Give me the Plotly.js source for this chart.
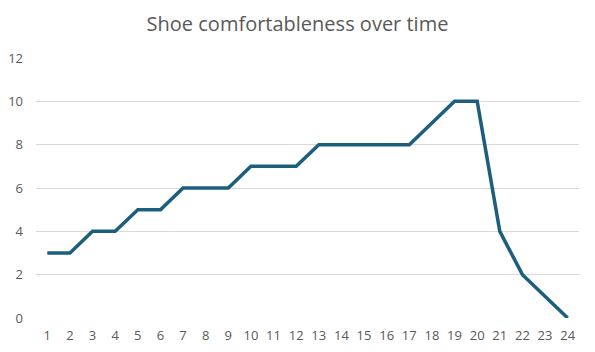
<!DOCTYPE html>
<html><head><meta charset="utf-8">
<script src="https://cdn.plot.ly/plotly-3.0.1.min.js"></script>
<style>html,body{margin:0;padding:0;background:#fff}#c{width:595px;height:352px}</style>
</head><body><div id="c"></div>
<script>
const weeks = [1,2,3,4,5,6,7,8,9,10,11,12,13,14,15,16,17,18,19,20,21,22,23,24];
const comfort = [3,3,4,4,5,5,6,6,6,7,7,7,8,8,8,8,8,9,10,10,4,2,1,0];
const yTicks = [0,2,4,6,8,10,12];

Plotly.newPlot('c', [{
  x: weeks, y: comfort, type: 'scatter', mode: 'lines',
  line: {color: '#1b5e7e', width: 3.5}, hoverinfo: 'skip'
}], {
  width: 595, height: 352,
  margin: {l: 36, r: 16, t: 58, b: 34},
  paper_bgcolor: '#fff', plot_bgcolor: '#fff',
  font: {family: 'Open Sans, Liberation Sans, sans-serif', color: '#595959', size: 13},
  title: {text: 'Shoe comfortableness over time', x: 0.5, xanchor: 'center', y: 0.932, yanchor: 'middle',
          font: {size: 20, color: '#595959', family: 'Open Sans, sans-serif'}},
  showlegend: false,
  xaxis: {range: [0.5, 24.5], tickmode: 'array', tickvals: weeks, ticktext: weeks.map(String),
          showgrid: false, zeroline: false, showline: false, ticks: '', ticklabelstandoff: 8,
          fixedrange: true},
  yaxis: {range: [0, 12], tickmode: 'array', tickvals: yTicks, showgrid: true, gridcolor: '#d9d9d9',
          gridwidth: 1, zeroline: false, showline: false, ticks: '', ticklabelstandoff: 12,
          fixedrange: true}
}, {displayModeBar: false, staticPlot: true});
</script></body></html>
